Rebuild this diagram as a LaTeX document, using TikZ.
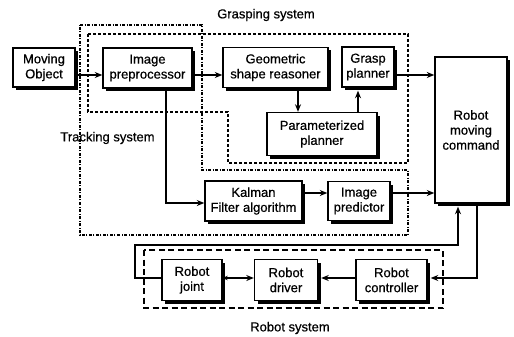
\documentclass[tikz,border=0pt]{standalone}
\usepackage{fontspec}
\setmainfont{Liberation Sans}[UprightFeatures={FakeBold=0.6}]
\usetikzlibrary{arrows.meta,shadows}
\begin{document}
\begin{tikzpicture}[x=1pt,y=-1pt,
  blk/.style={draw, line width=1.4pt, fill=white, align=center, inner sep=0pt,
    drop shadow={shadow xshift=3pt, shadow yshift=-3pt, fill=black, opacity=1},
    font=\fontsize{13}{15}\selectfont},
  lbl/.style={font=\fontsize{13}{15}\selectfont, inner sep=0pt},
  conn/.style={line width=1.2pt, -{Stealth[length=7.5pt,width=6pt]}},
  dconn/.style={line width=1.2pt, {Stealth[length=5pt,width=4.5pt]}-{Stealth[length=7.5pt,width=6pt]}},
  grasp/.style={line width=1.1pt, dash pattern=on 3pt off 2pt},
  track/.style={line width=1.1pt, dash pattern=on 3pt off 1.5pt on 1pt off 1.5pt},
  robsys/.style={line width=1.4pt, dash pattern=on 6pt off 3.5pt}]
\useasboundingbox (0,0) rectangle (514,337);

% subsystem outlines
\draw[track] (80,25) -- (202,25) -- (202,170) -- (408,170) -- (408,235) -- (80,235) -- cycle;
\draw[grasp] (88,34) -- (408,34) -- (408,163) -- (228,163) -- (228,112) -- (88,112) -- cycle;
\draw[robsys] (144,250) rectangle (443,308);

% subsystem names
\node[lbl] (lgr) at (266,15) {Grasping system};
\node[lbl] (ltr) at (107.5,138) {Tracking system};
\node[lbl] (lrs) at (290,328) {Robot system};

% processing blocks
\node[blk, minimum width=62pt, minimum height=39pt] (mo) at (44,67.5) {Moving\\Object};
\node[blk, minimum width=89pt, minimum height=40pt] (ip) at (147.5,68) {Image\\preprocessor};
\node[blk, minimum width=105pt, minimum height=40pt] (gs) at (275.5,67.5) {Geometric\\shape reasoner};
\node[blk, minimum width=52pt, minimum height=40pt] (gp) at (368,67) {Grasp\\planner};
\node[blk, minimum width=110pt, minimum height=43pt] (pp) at (322,134) {Parameterized\\planner};
\node[blk, minimum width=72pt, minimum height=146pt] (rc) at (471,130) {Robot\\moving\\command};
\node[blk, minimum width=97pt, minimum height=40pt] (kf) at (253.5,201) {Kalman\\Filter algorithm};
\node[blk, minimum width=62pt, minimum height=39pt] (ipr) at (359,201) {Image\\predictor};
\node[blk, minimum width=60pt, minimum height=41pt] (rj) at (192,280) {Robot\\joint};
\node[blk, minimum width=63pt, minimum height=41pt] (drv) at (286,280) {Robot\\driver};
\node[blk, minimum width=71pt, minimum height=41pt] (ctl) at (391.5,280) {Robot\\controller};

% routing levels
\coordinate (rowA) at (0,75);
\coordinate (rowB) at (0,193);
\coordinate (rowC) at (0,203);
\coordinate (rowD) at (0,278);
\coordinate (loopT) at (0,245);
\coordinate (loopL) at (135,0);
\coordinate (colG) at (298,0);
\coordinate (colP) at (358,0);
\coordinate (colI) at (166,0);
\coordinate (colF) at (458,0);
\coordinate (colC) at (477,0);

% connectors
\draw[conn] (mo.east |- rowA) -- (ip.west |- rowA);
\draw[conn] (ip.east |- rowA) -- (gs.west |- rowA);
\draw[conn] (gs.south -| colG) -- (pp.north -| colG);
\draw[conn, shorten >=3pt] (pp.north -| colP) -- (gp.south -| colP);
\draw[conn] (gp.east |- rowA) -- (rc.west |- rowA);
\draw[conn] (ip.south -| colI) |- (kf.west |- rowC);
\draw[conn] (kf.east |- rowB) -- (ipr.west |- rowB);
\draw[conn] (ipr.east |- rowB) -- (rc.west |- rowB);
\draw[conn, shorten >=3pt] (rj.west |- rowD) -- (loopL |- rowD) -- (loopL |- loopT)
  -- (colF |- loopT) -- (rc.south -| colF);
\draw[conn, shorten >=3pt] (rc.south -| colC) |- (ctl.east |- rowD);
\draw[conn, shorten >=3pt] (ctl.west |- rowD) -- (drv.east |- rowD);
\draw[dconn] (rj.east |- rowD) -- (drv.west |- rowD);
\end{tikzpicture}
\end{document}
